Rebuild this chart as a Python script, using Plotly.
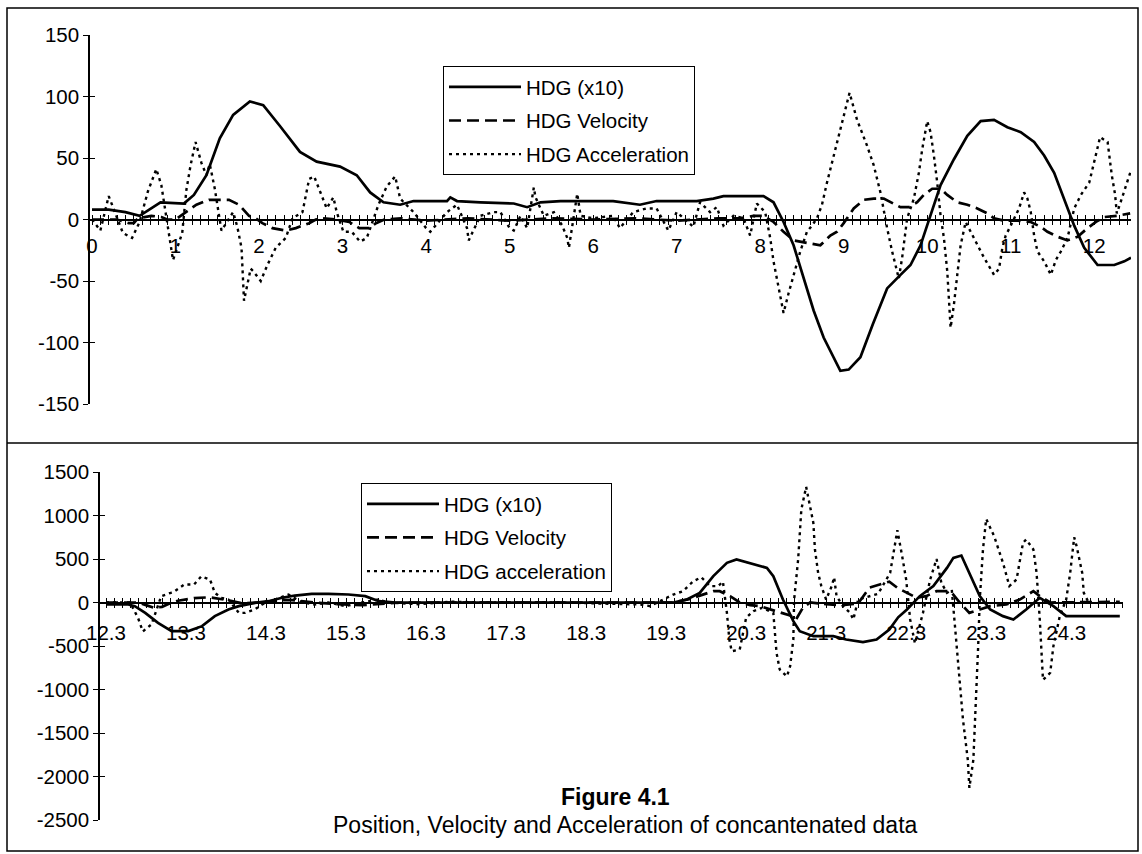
import plotly.graph_objects as go

# ---------------- Top panel data (position 0 .. 12.4) ----------------
top_hdg_x = [0, 0.2, 0.4, 0.57, 0.82, 1.1, 1.22, 1.37, 1.53, 1.69, 1.89, 2.05, 2.25, 2.49, 2.69, 2.97,
             3.17, 3.33, 3.49, 3.69, 3.85, 4.25, 4.29, 4.37, 4.65, 5.05, 5.21, 5.37, 5.61, 6.24, 6.56,
             6.76, 7.24, 7.44, 7.56, 7.84, 8.04, 8.16, 8.28, 8.4, 8.52, 8.64, 8.76, 8.96, 9.06, 9.2,
             9.35, 9.52, 9.68, 9.8, 9.92, 10.04, 10.16, 10.32, 10.48, 10.64, 10.8, 10.96, 11.12, 11.28,
             11.4, 11.52, 11.64, 11.76, 11.88, 12.04, 12.24, 12.36, 12.44]
top_hdg_y = [8, 8, 6, 3, 14, 13, 20, 36, 66, 85, 96, 93, 76, 55, 47, 43,
             36, 22, 14, 12, 15, 15, 18, 15, 14, 13, 10, 14, 15, 15, 12,
             15, 15, 17, 19, 19, 19, 14, -2, -21, -48, -74, -96, -123, -122, -112,
             -85, -56, -45, -37, -21, 3, 28, 49, 68, 80, 81, 75, 71, 63,
             52, 38, 17, -5, -23, -37, -37, -34, -31]

top_vel_x = [0, 0.16, 0.3, 0.44, 0.5, 0.55, 0.71, 0.83, 0.9, 1.0, 1.13, 1.25, 1.4, 1.64, 1.76, 1.88,
             1.96, 2.04, 2.16, 2.32, 2.44, 2.6, 2.68, 2.76, 2.92, 3.08, 3.2, 3.32, 3.4, 3.5, 3.7, 4.0,
             4.5, 5.0, 5.5, 6.0, 6.5, 7.0, 7.5, 7.76, 7.92, 8.04, 8.16, 8.28, 8.4, 8.56, 8.72, 8.84,
             8.92, 9.0, 9.12, 9.24, 9.36, 9.48, 9.6, 9.68, 9.78, 9.88, 9.96, 10.06, 10.16, 10.24,
             10.36, 10.48, 10.6, 10.72, 10.8, 10.92, 11.08, 11.24, 11.36, 11.44, 11.56, 11.68, 11.8,
             11.92, 12.02, 12.12, 12.27, 12.43]
top_vel_y = [0, 0, 0, -3, -3, 1, 3, 2, 0, 0, 6, 12, 16, 16, 12, 3,
             1, -3, -7, -9, -7, -3, 0, 1, 0, -2, -7, -7, -3, 0, 1, -1,
             1, -1, 1, 0, 1, -1, 1, 1, 3, 3, -2, -10, -17, -19, -21, -13,
             -10, -3, 9, 16, 17, 17, 13, 10, 10, 14, 20, 25, 25, 20,
             14, 12, 9, 5, 1, -1, -1, -2, -6, -10, -14, -17, -14,
             -7, -2, 2, 3, 5]

top_acc_x = [0, 0.1, 0.2, 0.37, 0.48, 0.57, 0.67, 0.77, 0.83, 0.9, 0.97, 1.08, 1.13, 1.18, 1.24, 1.31,
             1.37, 1.41, 1.47, 1.55, 1.69, 1.74, 1.79, 1.82, 1.9, 1.93, 2.02, 2.1, 2.2, 2.32, 2.4,
             2.52, 2.6, 2.66, 2.76, 2.81, 2.89, 2.93, 3.01, 3.11, 3.21, 3.29, 3.43, 3.53, 3.63, 3.69,
             3.85, 4.0, 4.05, 4.25, 4.37, 4.49, 4.51, 4.65, 4.81, 4.89, 5.0, 5.05, 5.13, 5.21, 5.29,
             5.31, 5.41, 5.53, 5.63, 5.69, 5.71, 5.81, 5.85, 6.0, 6.24, 6.32, 6.48, 6.64, 6.76, 6.84,
             6.9, 7.0, 7.2, 7.28, 7.4, 7.48, 7.56, 7.68, 7.8, 7.88, 7.96, 8.06, 8.12, 8.16, 8.22,
             8.28, 8.34, 8.4, 8.48, 8.56, 8.62, 8.68, 8.74, 8.8, 8.88, 8.94, 9.0, 9.07, 9.16, 9.28,
             9.36, 9.44, 9.52, 9.58, 9.66, 9.7, 9.76, 9.84, 9.9, 9.94, 10.0, 10.04, 10.08, 10.12,
             10.16, 10.2, 10.24, 10.28, 10.32, 10.36, 10.4, 10.46, 10.52, 10.6, 10.68, 10.8, 10.86,
             10.9, 10.94, 11.0, 11.1, 11.16, 11.2, 11.24, 11.28, 11.32, 11.4, 11.48, 11.54, 11.6,
             11.68, 11.76, 11.84, 11.94, 12.0, 12.07, 12.16, 12.21, 12.25, 12.27, 12.33, 12.39, 12.44]
top_acc_y = [0, -9, 19, -11, -15, -2, 23, 41, 28, -2, -33, -11, 24, 44, 63, 46,
             36, 45, 25, -9, 6, -6, -23, -66, -40, -42, -50, -37, -23, -15, 1,
             6, 33, 35, 17, 9, 18, 6, -10, -10, -18, -15, 12, 27, 35, 17,
             6, -7, -10, 6, 12, -7, -17, 3, 6, 6, -7, -9, 3, -7, 26,
             18, 3, 6, -5, -15, -23, 21, 3, 1, 3, -7, 6, 9, 9, -2,
             -9, 6, -6, 14, 6, 10, -5, 3, 1, -13, 13, 6, -15, -34, -56,
             -76, -60, -45, -26, -10, -5, 1, 12, 30, 52, 68, 84, 103, 81, 60,
             44, 22, -7, -26, -48, -31, 1, 17, 38, 57, 80, 71, 52, 30,
             3, -15, -42, -88, -69, -42, -21, -2, -10, -21, -31, -45, -40,
             -23, -13, -5, 9, 22, 17, 6, -13, -26, -34, -45, -33, -26,
             -15, 9, 20, 30, 47, 67, 63, 36, 20, 5, 17, 30, 40]

top_tick_labels = ["0", "1", "2", "3", "4", "5", "6", "7", "8", "9", "10", "11", "12"]
top_y_labels = ["-150", "-100", "-50", "0", "50", "100", "150"]

# ---------------- Bottom panel data (position 12.3 .. 24.9) ----------------
bot_hdg_x = [12.3, 12.58, 12.66, 12.79, 12.95, 13.12, 13.33, 13.5, 13.66, 13.83, 13.96, 14.16, 14.33,
             14.5, 14.66, 14.87, 15.08, 15.33, 15.54, 15.71, 15.92, 16.5, 17.5, 18.5, 18.98, 19.39,
             19.56, 19.72, 19.89, 20.06, 20.18, 20.35, 20.56, 20.64, 20.76, 20.89, 20.97, 21.14,
             21.39, 21.55, 21.76, 21.93, 22.09, 22.2, 22.31, 22.47, 22.64, 22.81, 22.89, 22.99,
             23.09, 23.22, 23.35, 23.51, 23.64, 23.8, 23.97, 24.14, 24.3, 24.47, 24.97]
bot_hdg_y = [-23, -23, -42, -119, -234, -329, -329, -272, -157, -80, -42, -4, 15,
             54, 80, 100, 100, 92, 73, 15, 0, 0, 0, 0, 0, 0,
             34, 111, 303, 456, 494, 448, 398, 303, 34, -215, -330, -387,
             -387, -425, -456, -425, -310, -170, -80, 73, 188, 398, 513, 540,
             341, 73, -80, -157, -195, -80, 54, -42, -157, -157, -157]

bot_vel_x = [12.3, 12.7, 12.8, 12.9, 13.0, 13.1, 13.2, 13.4, 13.6, 13.8, 14.0, 14.2, 14.4, 14.6, 14.9,
             15.2, 15.5, 15.8, 16.0, 17.0, 18.0, 19.0, 19.39, 19.6, 19.89, 19.97, 20.1, 20.22, 20.35,
             20.47, 20.6, 20.72, 20.85, 20.92, 21.01, 21.1, 21.3, 21.5, 21.7, 21.84, 21.97, 22.09,
             22.19, 22.31, 22.43, 22.55, 22.68, 22.81, 22.87, 22.97, 23.09, 23.22, 23.35, 23.55,
             23.72, 23.89, 23.97, 24.1, 24.27, 24.4, 24.97]
bot_vel_y = [0, 0, -30, -60, -50, -10, 20, 50, 60, 30, -10, 0, 20, 30, 0,
             -20, -30, -10, 0, 0, 0, 0, 0, 42, 130, 130, 73, 0, -30,
             -42, -80, -119, -150, -200, -60, 0, -20, -30, -10, 170, 207, 240,
             169, 111, 54, 73, 130, 130, 111, 0, -119, -80, -42, -23,
             34, 130, 73, 0, 0, 8, 8]

bot_acc_x = [12.3, 12.6, 12.7, 12.76, 12.87, 12.99, 13.11, 13.16, 13.28, 13.4, 13.49, 13.6, 13.66,
             13.74, 13.83, 13.96, 14.04, 14.16, 14.25, 14.41, 14.58, 14.75, 14.91, 15.08, 15.29,
             15.5, 15.7, 15.83, 16.2, 16.6, 17.0, 18.0, 18.98, 19.1, 19.27, 19.39, 19.51, 19.64,
             19.74, 19.85, 19.95, 20.01, 20.06, 20.09, 20.12, 20.22, 20.3, 20.39, 20.5, 20.64,
             20.68, 20.72, 20.81, 20.85, 20.89, 20.9, 20.95, 20.99, 21.05, 21.14, 21.16, 21.2,
             21.24, 21.3, 21.37, 21.4, 21.43, 21.51, 21.6, 21.64, 21.7, 21.8, 21.95, 22.1, 22.19,
             22.25, 22.3, 22.35, 22.41, 22.51, 22.6, 22.68, 22.74, 22.81, 22.87, 22.91, 22.95,
             23.01, 23.07, 23.09, 23.14, 23.18, 23.2, 23.22, 23.26, 23.3, 23.4, 23.51, 23.59,
             23.68, 23.76, 23.8, 23.89, 23.93, 23.97, 24.01, 24.1, 24.14, 24.22, 24.3, 24.35,
             24.4, 24.43, 24.5, 24.52, 24.58]
bot_acc_y = [0, 0, -176, -333, -250, 73, 111, 130, 207, 207, 300, 264, 111,
             54, 34, -119, -119, -80, -23, 34, 92, 0, -23, 0, -42,
             0, 34, 0, -20, 10, 0, 0, -23, -42, 34, 92, 130, 245,
             290, 188, 188, 241, -119, -425, -560, -540, -176, -100, -61, -119,
             -579, -770, -850, -732, -425, 34, 494, 1069, 1330, 916, 609, 341,
             188, 34, 188, 290, 73, -42, -119, -195, 34, 60, 100, 341, 830,
             533, 264, -195, -470, -119, 264, 500, 226, 111, 149, -272, -732,
             -1345, -1805, -2130, -1805, -1038, -502, 34, 609, 960, 762, 456, 188,
             264, 686, 724, 609, 341, -195, -890, -808, -502, -157, 34, 341,
             750, 648, 341, 111, 0]

bot_tick_labels = ["12.3", "13.3", "14.3", "15.3", "16.3", "17.3", "18.3", "19.3", "20.3",
                   "21.3", "22.3", "23.3", "24.3"]
bot_y_labels = ["-2500", "-2000", "-1500", "-1000", "-500", "0", "500", "1000", "1500"]

top_names = ["HDG (x10)", "HDG Velocity", "HDG Acceleration"]
bot_names = ["HDG (x10)", "HDG Velocity", "HDG acceleration"]

# ---------------- Layout geometry (pixels of a 1142x854 page) ----------------
W, H = 1142, 854
FONT = "Liberation Sans, Arial, Helvetica, sans-serif"


def fx(px):
    return px / W


def fy(py):
    return 1 - py / H


top_xdom = [fx(90), fx(1131)]
top_ydom = [fy(404), fy(35)]
bot_xdom = [fx(100), fx(1123)]
bot_ydom = [fy(820), fy(472)]
top_yr = [-150, 150]
bot_yr = [-2500, 1500]
top_xr = [-0.024, 12.44]
bot_xr = [12.225, 25.01]
top_pos = top_ydom[0] + (0 - top_yr[0]) / (top_yr[1] - top_yr[0]) * (top_ydom[1] - top_ydom[0])
bot_pos = bot_ydom[0] + (0 - bot_yr[0]) / (bot_yr[1] - bot_yr[0]) * (bot_ydom[1] - bot_ydom[0])

fig = go.Figure()

styles = [dict(color="black", width=2.7),
          dict(color="black", width=2.7, dash="12px,6px"),
          dict(color="black", width=2.4, dash="3px,4px")]

for name, xs, ys, st, i in zip(top_names, [top_hdg_x, top_vel_x, top_acc_x],
                               [top_hdg_y, top_vel_y, top_acc_y], styles, range(3)):
    fig.add_trace(go.Scatter(x=xs, y=ys, mode="lines", name=name, line=st,
                             xaxis="x", yaxis="y", legend="legend",
                             legendgroup="t%d" % i))

for name, xs, ys, st, i in zip(bot_names, [bot_hdg_x, bot_vel_x, bot_acc_x],
                               [bot_hdg_y, bot_vel_y, bot_acc_y], styles, range(3)):
    fig.add_trace(go.Scatter(x=xs, y=ys, mode="lines", name=name, line=st,
                             xaxis="x2", yaxis="y2", legend="legend2",
                             legendgroup="b%d" % i))

# empty traces to carry the overlay axes (inner half of crossing ticks)
fig.add_trace(go.Scatter(x=[], y=[], xaxis="x3", yaxis="y3", showlegend=False, hoverinfo="skip"))
fig.add_trace(go.Scatter(x=[], y=[], xaxis="x4", yaxis="y4", showlegend=False, hoverinfo="skip"))

tickfont = dict(family=FONT, size=20.5, color="black")

top_tv = [float(t) for t in top_tick_labels]
bot_tv = [float(t) for t in bot_tick_labels]
top_ytv = [float(t) for t in top_y_labels]
bot_ytv = [float(t) for t in bot_y_labels]

common_x = dict(showgrid=False, zeroline=False, anchor="free", tickmode="array",
                tickcolor="black", tickwidth=1, ticklen=5, automargin=False)
common_y = dict(showgrid=False, zeroline=False, tickmode="array", tickcolor="black",
                tickwidth=1, ticklen=5, automargin=False)

fig.update_layout(
    template="none",
    width=W, height=H,
    margin=dict(l=0, r=0, t=0, b=0, pad=0, autoexpand=False),
    paper_bgcolor="white", plot_bgcolor="rgba(0,0,0,0)",
    font=dict(family=FONT, color="black"),
    xaxis=dict(domain=top_xdom, range=top_xr, position=top_pos, tickvals=top_tv,
               ticktext=top_tick_labels, ticks="outside", showline=True, linecolor="black",
               linewidth=1.5, tickfont=tickfont, ticklabelstandoff=3,
               minor=dict(tickmode="linear", tick0=0, dtick=0.1, ticks="outside", ticklen=5,
                          tickcolor="black", tickwidth=1),
               **common_x),
    xaxis3=dict(domain=top_xdom, range=top_xr, position=top_pos, overlaying="x",
                tickvals=top_tv, ticks="inside", showticklabels=False, showline=False,
                minor=dict(tickmode="linear", tick0=0, dtick=0.1, ticks="inside", ticklen=5,
                           tickcolor="black", tickwidth=1),
                **common_x),
    yaxis=dict(domain=top_ydom, range=top_yr, anchor="x", tickvals=top_ytv,
               ticktext=top_y_labels, ticks="outside", showline=True, linecolor="black",
               linewidth=1.5, tickfont=tickfont, **common_y),
    yaxis3=dict(domain=top_ydom, range=top_yr, anchor="x3", overlaying="y", side="left",
                tickvals=top_ytv, ticks="inside", showticklabels=False, showline=False,
                **common_y),
    xaxis2=dict(domain=bot_xdom, range=bot_xr, position=bot_pos, tickvals=bot_tv,
                ticktext=bot_tick_labels, ticks="outside", showline=True, linecolor="black",
                linewidth=1.5, tickfont=tickfont, ticklabelstandoff=7,
                minor=dict(tickmode="linear", tick0=12.3, dtick=0.1, ticks="outside",
                           ticklen=5, tickcolor="black", tickwidth=1),
                **common_x),
    xaxis4=dict(domain=bot_xdom, range=bot_xr, position=bot_pos, overlaying="x2",
                tickvals=bot_tv, ticks="inside", showticklabels=False, showline=False,
                minor=dict(tickmode="linear", tick0=12.3, dtick=0.1, ticks="inside",
                           ticklen=5, tickcolor="black", tickwidth=1),
                **common_x),
    yaxis2=dict(domain=bot_ydom, range=bot_yr, anchor="x2", tickvals=bot_ytv,
                ticktext=bot_y_labels, ticks="outside", showline=True, linecolor="black",
                linewidth=1.5, tickfont=tickfont, **common_y),
    yaxis4=dict(domain=bot_ydom, range=bot_yr, anchor="x4", overlaying="y2", side="left",
                tickvals=bot_ytv, ticks="inside", showticklabels=False, showline=False,
                **common_y),
    legend=dict(x=fx(443), y=fy(66), xanchor="left", yanchor="top", bgcolor="white",
                bordercolor="black", borderwidth=1, font=dict(family=FONT, size=20.5, color="black"),
                itemwidth=72, traceorder="grouped", tracegroupgap=4),
    legend2=dict(x=fx(361), y=fy(483), xanchor="left", yanchor="top", bgcolor="white",
                 bordercolor="black", borderwidth=1, font=dict(family=FONT, size=20.5, color="black"),
                 itemwidth=72, traceorder="grouped", tracegroupgap=4),
    showlegend=True,
    shapes=[
        dict(type="rect", xref="paper", yref="paper", x0=fx(7), x1=fx(1138), y0=fy(851), y1=fy(8),
             line=dict(color="black", width=1.5)),
        dict(type="line", xref="paper", yref="paper", x0=fx(7), x1=fx(1138), y0=fy(443), y1=fy(443),
             line=dict(color="black", width=1.5)),
    ],
    annotations=[
        dict(text="<b>Figure 4.1</b>", xref="paper", yref="paper", x=fx(615), y=fy(797),
             showarrow=False, xanchor="center", yanchor="middle",
             font=dict(family=FONT, size=23, color="black")),
        dict(text="Position, Velocity and Acceleration of concantenated data", xref="paper",
             yref="paper", x=fx(625), y=fy(825), showarrow=False, xanchor="center",
             yanchor="middle", font=dict(family=FONT, size=23, color="black")),
    ],
)

fig.write_html("out.html")
